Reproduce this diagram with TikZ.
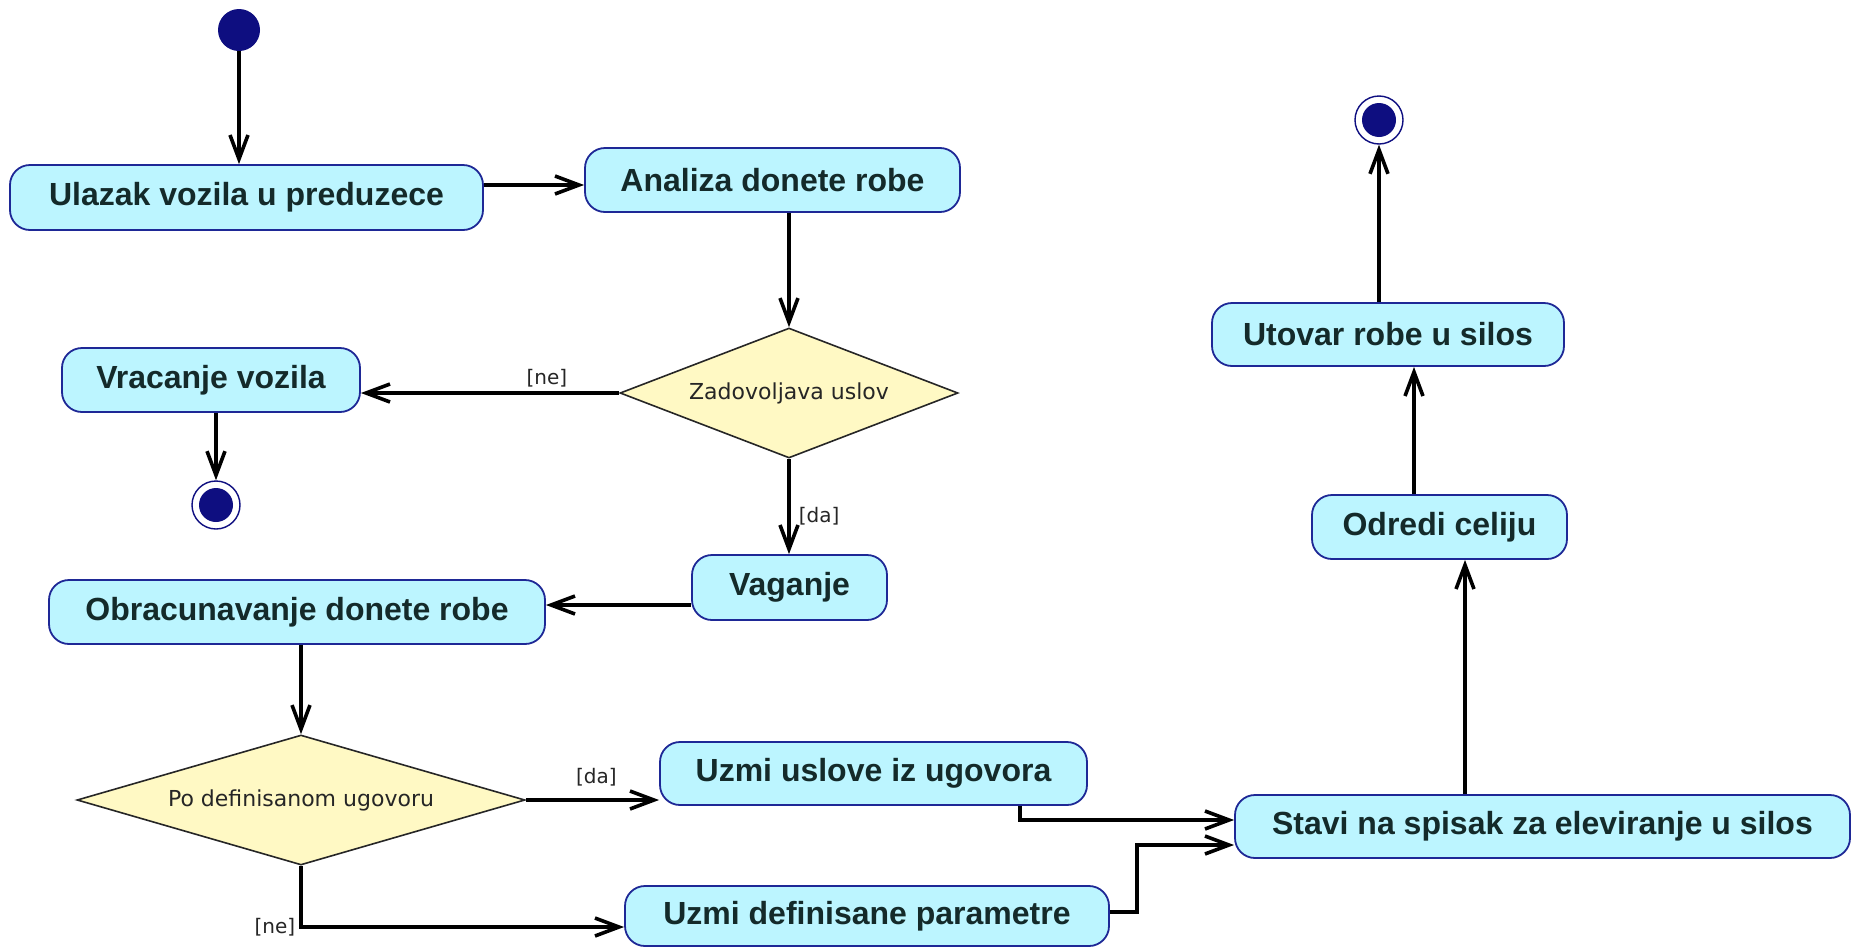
\documentclass[tikz,border=0pt]{standalone}
\usepackage{fontspec}
\setmainfont{Liberation Sans}
\newfontfamily\djfont{DejaVu Sans}
\usetikzlibrary{arrows.meta,shapes.geometric}
\definecolor{actfill}{RGB}{188,245,255}
\definecolor{actborder}{RGB}{30,40,150}
\definecolor{acttext}{RGB}{20,42,42}
\definecolor{decfill}{RGB}{255,249,196}
\definecolor{navy}{RGB}{14,14,128}
\tikzset{
  act/.style={draw=actborder, line width=0.9pt, fill=actfill, rounded corners=10pt,
    font=\bfseries\fontsize{16}{19}\selectfont, text=acttext, inner sep=0pt},
  dec/.style={diamond, draw=black!85, line width=0.8pt, fill=decfill, inner sep=0pt,
    aspect=2.6, font=\djfont\fontsize{11}{13}\selectfont, text=black!85},
  initnode/.style={circle, fill=navy, minimum size=21pt, inner sep=0pt},
  finalnode/.style={circle, draw=navy, line width=0.7pt, fill=white, minimum size=24pt, inner sep=0pt,
    path picture={\fill[navy] (path picture bounding box.center) circle (8.5pt);}},
  arr/.style={line width=1.8pt, -{Straight Barb[length=12pt,width=9pt]}},
  guard/.style={font=\djfont\fontsize{10}{12}\selectfont, text=black!85, inner sep=2pt}
}
\begin{document}
\begin{tikzpicture}[x=0.5pt,y=-0.5pt]
\useasboundingbox[fill=white] (0,0) rectangle (1853,948);
% nodes
\node[initnode] (start) at (239,30) {};
\node[act, minimum width=236.5pt, minimum height=32.5pt] (ulazak) at (246.5,197.5) {Ulazak vozila u preduzece};
\node[act, minimum width=187.5pt, minimum height=32pt] (analiza) at (772.5,180) {Analiza donete robe};
\node[dec, minimum width=169pt, minimum height=65pt] (zad) at (789,393) {Zadovoljava uslov};
\node[act, minimum width=149pt, minimum height=32pt] (vracanje) at (211,380) {Vracanje vozila};
\node[finalnode] (endA) at (216,505) {};
\node[act, minimum width=97.5pt, minimum height=32.5pt] (vaganje) at (789.5,587.5) {Vaganje};
\node[act, minimum width=248pt, minimum height=32pt] (obrac) at (297,612) {Obracunavanje donete robe};
\node[dec, minimum width=224pt, minimum height=65pt] (po) at (301,800) {Po definisanom ugovoru};
\node[act, minimum width=213.5pt, minimum height=31.5pt] (uslove) at (873.5,773.5) {Uzmi uslove iz ugovora};
\node[act, minimum width=242pt, minimum height=30pt] (param) at (867,916) {Uzmi definisane parametre};
\node[act, minimum width=307.5pt, minimum height=31.5pt] (stavi) at (1542.5,826.5) {Stavi na spisak za eleviranje u silos};
\node[act, minimum width=127.5pt, minimum height=32pt] (odredi) at (1439.5,527) {Odredi celiju};
\node[act, minimum width=176pt, minimum height=31.5pt] (utovar) at (1388,334.5) {Utovar robe u silos};
\node[finalnode] (endB) at (1379,120) {};
% connectors
\draw[arr] (start) -- (start |- ulazak.north);
\draw[arr] ([yshift=6.25pt]ulazak.east) -- ([yshift=-2.5pt]analiza.west);
\draw[arr] (zad.north |- analiza.south) -- (zad.north);
\draw[arr] (zad.west) -- node[guard, above, pos=0.28] {[ne]} (vracanje.east |- zad.west);
\draw[arr] (endA |- vracanje.south) -- (endA.north);
\draw[arr] (zad.south) -- node[guard, right, pos=0.6, xshift=2pt] {[da]} (zad.south |- vaganje.north);
\draw[arr] ([yshift=-8.75pt]vaganje.west) -- ([yshift=3.5pt]obrac.east);
\draw[arr] (po.north |- obrac.south) -- (po.north);
\draw[arr] (po.east) -- node[guard, above, pos=0.53, yshift=4pt] {[da]} (uslove.west |- po.east);
\draw[arr] (po.south) |- node[guard, left, pos=0.5] {[ne]} ([yshift=-5.5pt]param.west);
\draw[arr] ([xshift=73.25pt]uslove.south) |- ([yshift=3.25pt]stavi.west);
\draw[arr] ([yshift=2pt]param.east) -- ++(13.5pt,0) |- ([yshift=-9.25pt]stavi.west);
\draw[arr] ([xshift=-38.75pt]stavi.north) -- ([xshift=12.75pt]odredi.south);
\draw[arr] ([xshift=-12.75pt]odredi.north) -- ([xshift=13pt]utovar.south);
\draw[arr] (endB |- utovar.north) -- (endB.south);
\end{tikzpicture}
\end{document}
